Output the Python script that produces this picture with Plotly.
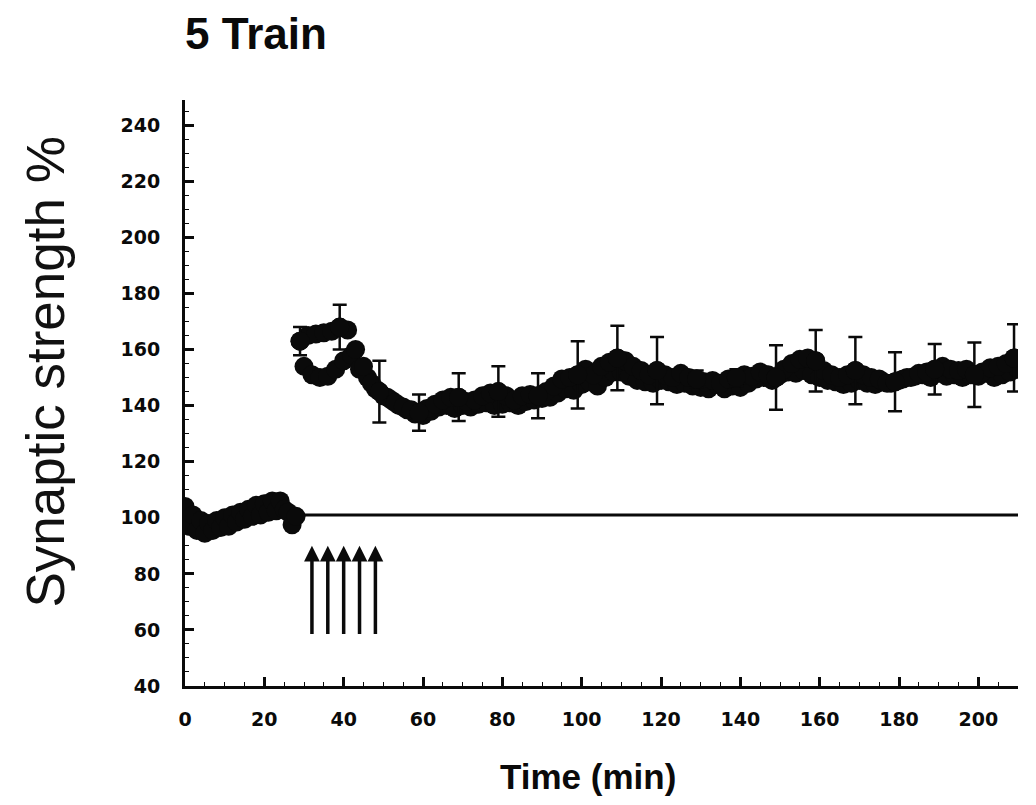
import plotly.graph_objects as go

# ---------------- data ----------------
base_t = list(range(0, 29))
base_v = [104, 97, 101, 95.5, 99, 94.5, 98, 95.5, 99, 96.5,
          100, 97, 101, 98.5, 102, 99.5, 103, 100.5, 104.5, 101,
          105, 102, 106, 102.5, 106, 103, 102, 97.5, 100.5]

a_t = list(range(29, 210, 2))
a_v = [163, 165, 165.5, 166, 166.5, 168, 167, 160, 154, 148,
       145, 143, 141, 139.5, 138.5, 137.5, 139, 140.5, 142, 143,
       143, 141.5, 142, 143.5, 144.5, 145, 143.5, 142, 143.5, 144,
       143.5, 145, 147, 149.5, 150, 151, 153, 151, 154, 155.5,
       157, 156, 154, 152.5, 151, 152.5, 151, 150, 151.5, 150,
       149.5, 148.5, 149, 148, 149.5, 150, 151, 150.5, 152, 151,
       150, 153, 155, 156.5, 157, 156, 152.5, 151, 150, 151,
       152.5, 151, 150, 149.5, 148, 148.5, 149.5, 150, 151.5, 152,
       153, 154, 153, 152.5, 153, 151, 152, 153.5, 154, 155,
       157]

err_t = list(range(29, 210, 10))
err_v = [5, 8, 11, 6.5, 8.5, 9, 8, 12, 11.5, 12,
         3, 3, 11.5, 11, 12, 10.5, 9, 11.5, 12]

b_t = list(range(30, 211, 2))
b_v = [154, 151, 150, 150.5, 153, 156, 158, 153, 150, 146,
       143.5, 142, 140, 138.5, 137, 136.5, 138, 139.5, 140, 139,
       140, 139.5, 140.5, 141, 140, 140.5, 141, 140, 141.5, 142,
       142.5, 143, 144.5, 146, 145.5, 147.5, 148.5, 147, 150, 152,
       152, 150.5, 149, 148.5, 148, 149, 148.5, 147.5, 148, 147,
       146.5, 146, 147.5, 146, 147, 146.5, 148, 149.5, 150, 149,
       151, 152, 151.5, 152.5, 151, 150, 149, 148.5, 147.5, 148,
       149, 148, 147.5, 148.5, 148, 149, 150, 150.5, 151, 150,
       151.5, 150.5, 151, 150, 151, 150.5, 151.5, 150, 151, 152,
       153]

stim_t = [32, 36, 40, 44, 48]
stim_from, stim_to = 58, 90
ref_level = 101
ref_start, ref_end = 30, 210

x_ticks = list(range(0, 201, 20))
y_ticks = list(range(40, 241, 20))

title_text = "5 Train"
x_title = "Time (min)"
y_title = "Synaptic strength %"

# ---------------- figure ----------------
INK = "#0a0a0a"
mk = dict(size=19, color=INK, line=dict(width=0))

fig = go.Figure()
fig.add_trace(go.Scatter(x=base_t, y=base_v, mode="markers", marker=mk,
                         showlegend=False, hoverinfo="skip"))
fig.add_trace(go.Scatter(x=b_t, y=b_v, mode="markers", marker=mk,
                         showlegend=False, hoverinfo="skip"))
fig.add_trace(go.Scatter(x=a_t, y=a_v, mode="markers", marker=mk,
                         showlegend=False, hoverinfo="skip"))
fig.add_trace(go.Scatter(
    x=err_t, y=[a_v[a_t.index(t)] for t in err_t], mode="markers", marker=mk,
    error_y=dict(type="data", array=err_v, visible=True, color=INK,
                 thickness=2.5, width=7),
    showlegend=False, hoverinfo="skip"))

fig.add_shape(type="line", xref="x", yref="y", x0=ref_start, x1=ref_end,
              y0=ref_level, y1=ref_level, line=dict(color=INK, width=3))

for t in stim_t:
    fig.add_annotation(x=t, y=stim_to, ax=t, ay=stim_from, xref="x", yref="y",
                       axref="x", ayref="y", text="", showarrow=True,
                       arrowhead=2, arrowsize=0.9, arrowwidth=3.5,
                       arrowcolor=INK, standoff=0, startstandoff=0)

tick_font = dict(family="DejaVu Sans", size=19, color=INK, weight="bold")

fig.update_xaxes(range=[0, 210], showline=True, linewidth=3, linecolor=INK,
                 ticks="inside", ticklen=9, tickwidth=2.5, tickcolor=INK,
                 tickvals=x_ticks, tickfont=tick_font, ticklabelstandoff=14,
                 showgrid=False, zeroline=False,
                 minor=dict(ticks="inside", ticklen=4, tickwidth=1.2,
                            dtick=5, tickcolor=INK, showgrid=False))
fig.update_yaxes(range=[40, 249], showline=True, linewidth=3, linecolor=INK,
                 ticks="inside", ticklen=9, tickwidth=2.5, tickcolor=INK,
                 tickvals=y_ticks, tickfont=tick_font, ticklabelstandoff=18,
                 showgrid=False, zeroline=False,
                 minor=dict(ticks="inside", ticklen=4, tickwidth=1.2,
                            dtick=5, tickcolor=INK, showgrid=False))

fig.add_annotation(text=y_title, xref="paper", yref="paper", x=-0.168, y=0.535,
                   xanchor="center", yanchor="middle", textangle=-90,
                   showarrow=False,
                   font=dict(family="Liberation Sans, Arial", size=53, color="#111"))
fig.add_annotation(text=x_title, xref="paper", yref="paper", x=0.484, y=-0.155,
                   xanchor="center", yanchor="middle", showarrow=False,
                   font=dict(family="Liberation Sans, Arial",
                             size=35, color=INK, weight="bold"))

fig.update_layout(
    width=1028, height=797,
    margin=dict(l=177, r=18, t=92, b=119),
    paper_bgcolor="white", plot_bgcolor="white",
    title=dict(text=title_text, x=0, xref="paper", xanchor="left",
               y=1 - 26 / 797, yref="container", yanchor="middle",
               font=dict(family="Liberation Sans, Arial",
                         size=44, color=INK, weight="bold")),
    showlegend=False,
)

fig.write_html("out.html")
